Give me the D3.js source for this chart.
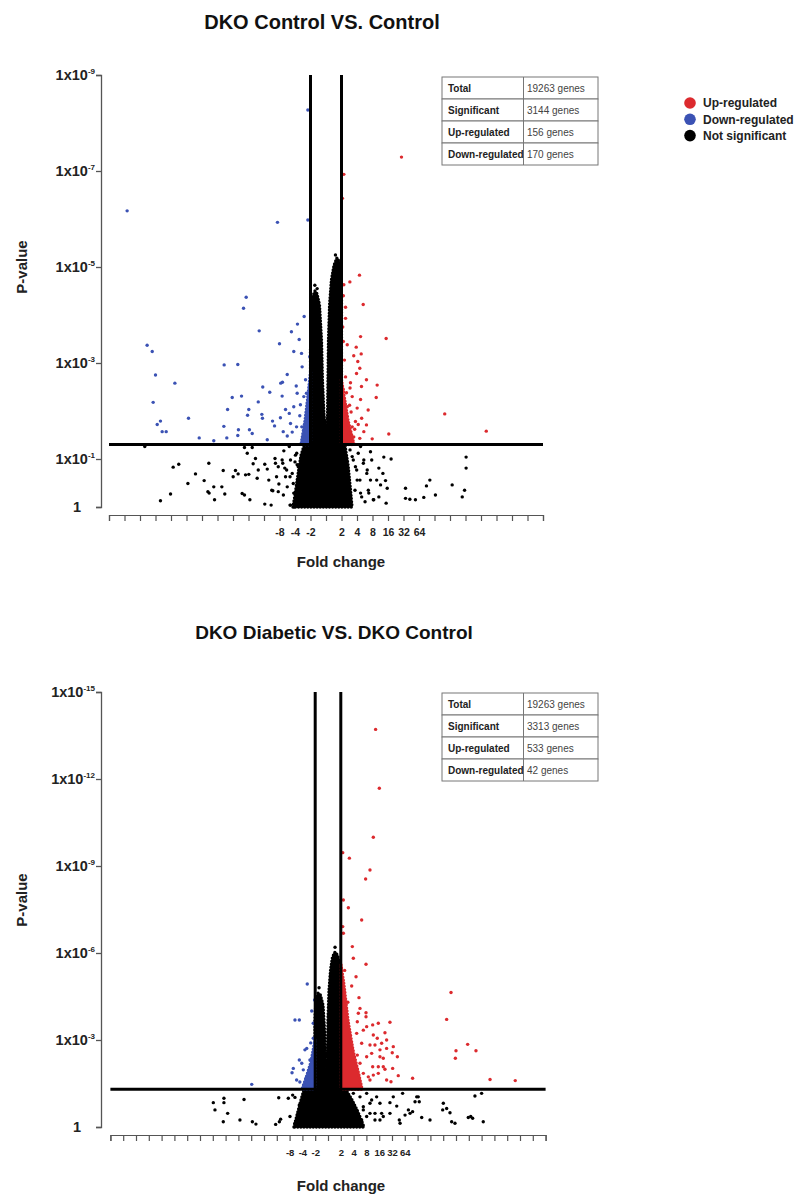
<!DOCTYPE html>
<html>
<head>
<meta charset="utf-8">
<script src="https://cdn.jsdelivr.net/npm/d3@7"></script>
<style>
  body { margin: 0; background: #fff; }
  svg { display: block; font-family: "Liberation Sans", Arial, Helvetica, sans-serif; }
</style>
</head>
<body>
<svg id="chart" width="807" height="1196"></svg>
<script>
// values are [log2 fold change, -log10 p-value]

// ---- DKO Control VS. Control ----
const ctrlUp = [
  [4.87,7.29],[1.15,6.93],[1.06,6.43],[2.16,4.83],[1.15,4.63],[1.54,4.69],[2.40,4.22],[1.26,4.16],
  [1.26,3.93],[2.23,3.55],[3.88,3.51],[1.37,3.38],[1.95,3.33],[2.27,3.19],[1.79,3.15],[2.05,3.03],
  [2.18,2.89],[1.97,2.78],[2.61,2.65],[3.30,2.54],[2.29,2.51],[1.58,2.59],[1.69,2.30],[2.23,2.24],
  [3.24,2.28],[2.72,2.02],[2.01,2.06],[7.66,1.94],[10.34,1.58],[4.05,1.52],[2.98,1.42],[2.61,1.71],
  [2.18,1.43],[1.90,1.78],[1.69,1.67],[1.37,2.09],[1.26,1.88],[1.47,1.53],[2.44,1.57],[1.79,1.46],
  [1.26,2.71],[1.19,3.06],[1.10,2.45],[1.32,2.38],[1.52,2.12],[1.12,3.45],[1.62,1.98],[1.85,1.62],
  [2.08,1.72],[1.40,1.70],[2.30,1.85],[1.55,2.48],[1.12,4.40],[1.08,3.75]
];
const ctrlDown = [
  [-1.17,8.27],[-1.17,5.98],[-12.83,6.17],[-3.13,5.93],[-5.15,4.37],[-5.32,4.14],[-11.54,3.37],
  [-11.21,3.24],[-11.00,2.75],[-9.75,2.58],[-11.15,2.18],[-10.89,1.72],[-10.68,1.79],[-10.57,1.57],
  [-10.31,1.57],[-8.87,1.85],[-8.18,1.44],[-7.24,1.38],[-6.57,2.96],[-5.69,2.97],[-6.35,2.03],
  [-6.05,2.28],[-5.45,2.31],[-6.59,1.68],[-6.40,1.44],[-5.69,1.49],[-5.65,1.61],[-4.98,2.03],
  [-5.06,1.91],[-4.94,1.61],[-4.76,1.53],[-4.37,2.19],[-4.31,3.67],[-4.08,2.50],[-4.14,1.93],
  [-4.10,1.85],[-3.63,2.39],[-3.45,1.79],[-3.32,1.69],[-3.79,1.40],[-3.00,3.40],[-2.92,2.58],
  [-2.81,2.60],[-2.83,2.31],[-2.94,1.86],[-2.50,2.76],[-2.23,3.65],[-2.08,3.24],[-1.84,3.81],
  [-1.73,3.49],[-1.41,3.97],[-1.54,2.92],[-2.61,2.03],[-2.37,1.95],[-2.29,1.74],[-2.18,1.56],
  [-2.76,1.57],[-2.50,1.48],[-1.92,2.52],[-1.86,2.37],[-1.65,2.13],[-2.08,2.09],[-1.69,1.90],
  [-1.56,1.67],[-1.90,1.67],[-1.39,1.46],[-1.32,2.65],[-1.26,2.37],[-1.21,2.02],[-1.43,2.30],
  [-1.09,1.40],[-1.05,3.13],[-1.58,3.20]
];
const ctrlNs = [
  [-11.69,1.26],[-9.86,0.83],[-9.50,0.89],[-10.68,0.13],[-10.03,0.27],[-8.91,0.49],[-8.42,0.69],
  [-7.86,0.55],[-7.56,0.91],[-7.62,0.32],[-7.54,0.29],[-7.24,0.42],[-7.19,0.15],[-6.72,0.42],
  [-6.63,0.76],[-6.53,0.27],[-5.99,0.63],[-5.84,0.76],[-5.67,0.69],[-5.41,0.28],[-5.26,0.25],
  [-5.19,0.67],[-4.98,0.68],[-4.91,0.15],[-4.70,0.90],[-5.26,1.24],[-5.08,1.12],[-4.76,1.24],
  [-4.55,1.01],[-4.37,0.77],[-4.44,0.60],[-3.95,0.89],[-3.79,0.79],[-3.69,0.56],[-3.95,0.06],
  [-3.54,0.04],[-3.43,0.34],[-3.26,0.91],[-3.19,0.63],[-3.04,0.48],[-2.83,0.98],[-2.72,1.17],
  [-2.66,0.81],[-2.61,0.63],[-2.50,0.42],[-2.37,1.26],[-2.29,0.98],[-2.29,0.04],[-2.18,0.70],
  [-2.08,0.29],[-1.97,1.08],[-1.86,0.88],[-1.82,0.56],[-1.69,0.35],[-1.65,0.15],
  [-3.29,1.01],[-3.08,0.84],[-2.79,0.91],[-2.54,0.77],[-2.32,0.63],[-2.11,0.49],[-2.00,0.94],
  [-3.08,0.32],[-3.50,0.35],[-2.32,0.04],[-2.75,0.25],[-1.89,1.12],[-1.79,0.84],[-1.68,0.21],
  [3.73,1.04],[4.20,1.00],[3.41,0.81],[3.67,0.70],[3.84,0.55],[3.52,0.46],[3.95,0.39],[3.88,0.08],
  [3.41,0.21],[3.08,0.15],[2.76,0.29],[2.87,0.56],[2.66,0.77],[2.44,0.98],[2.87,1.15],[2.23,1.26],
  [5.13,0.39],[5.13,0.18],[5.41,0.16],[5.77,0.15],[6.31,0.20],[6.48,0.44],[6.70,0.56],[7.06,0.25],
  [8.14,0.46],[8.79,0.21],[8.94,0.35],[9.04,1.04],[9.04,0.81],[2.01,0.56],[2.23,0.29],[1.90,0.84],
  [1.69,1.05],[1.55,1.19],[1.76,0.98],[1.98,0.77],[2.19,0.56],[2.30,0.21],[2.52,0.11],[2.73,0.35],
  [3.05,0.15],[1.87,0.35],[1.55,0.15],[2.08,1.12],[2.41,0.91],[2.63,0.70],[2.95,0.98],[3.27,0.56],
  [0.61,5.25],[0.94,5.05],[-0.72,4.62],[-0.57,4.55]
];
// outline of the solid not-significant cloud
const ctrlCore = [
  [-2.13,0],[-2.00,0.25],[-1.81,0.67],[-1.61,1.08],[-1.42,1.27],[-1.00,1.29],[-1.00,3.27],
  [-0.94,4.10],[-0.84,4.40],[-0.71,4.50],[-0.58,4.44],[-0.42,4.21],[-0.29,3.48],[-0.23,2.65],
  [-0.13,1.92],[0,1.44],[0.10,1.92],[0.13,2.65],[0.16,3.48],[0.23,4.21],[0.35,4.73],[0.52,5.04],
  [0.71,5.19],[0.87,5.10],[0.97,4.83],[1.00,4.31],[1.00,1.29],[1.23,1.27],[1.42,0.88],[1.55,0.46],
  [1.68,0]
];
const ctrlUpDense = [[1.0,2.65],[1.16,2.33],[1.42,1.81],[1.81,1.30],[1.0,1.30]];
const ctrlDownDense = [[-1.0,2.81],[-1.16,2.33],[-1.35,1.81],[-1.61,1.30],[-1.0,1.30]];
const ctrlPTicks = [9, 7, 5, 3, 1, 0];
const ctrlCounts = ['19263 genes', '3144 genes', '156 genes', '170 genes'];

// ---- DKO Diabetic VS. DKO Control ----
const diabUp = [
  [3.72,13.71],[4.01,11.68],[3.54,9.99],[1.15,9.46],[1.67,9.27],[3.28,8.86],[2.94,8.55],[1.20,7.83],
  [1.59,7.56],[2.63,7.14],[1.15,6.91],[1.20,6.68],[1.90,6.22],[1.98,5.82],[2.97,5.61],[2.19,5.18],
  [1.85,4.86],[2.42,4.46],[9.61,4.64],[9.27,3.71],[2.97,3.94],[2.97,3.80],[3.93,3.58],[3.49,3.52],
  [4.84,3.61],[4.45,3.25],[3.54,3.17],[3.85,3.06],[3.28,2.83],[3.67,2.83],[4.58,2.71],[5.10,2.77],
  [5.02,2.56],[5.42,2.42],[4.32,2.37],[3.49,2.08],[3.93,2.08],[4.32,2.08],[4.45,1.99],[5.05,2.02],
  [5.49,1.77],[6.61,1.68],[10.0,2.63],[9.95,2.37],[10.91,2.85],[11.56,2.63],[12.66,1.64],[14.63,1.60],
  [4.92,1.56],[3.15,1.73],[2.76,1.85],[2.50,2.20],[2.29,2.48],[2.63,2.89],[2.24,3.23],[2.76,3.34],
  [2.37,3.92],[3.02,3.46],[4.06,2.42],[4.06,2.66],[4.58,3.00],[4.19,2.89],[3.41,2.54],[3.02,2.42],
  [3.54,1.79],[3.93,1.85],[3.28,1.62],[2.50,4.09],[2.29,3.63],[4.58,1.62],[1.30,5.40],[1.55,4.30]
];
const diabDown = [
  [-1.62,4.93],[-2.58,3.69],[-2.24,3.69],[-1.27,4.00],[-1.15,3.58],[-1.80,2.66],[-1.66,2.71],
  [-2.24,2.31],[-2.05,2.20],[-2.71,2.02],[-2.81,1.87],[-5.96,1.47],[-1.93,1.97],[-1.41,2.31],
  [-1.72,1.68],[-1.88,1.45],[-1.54,1.39],[-1.27,1.73],[-1.15,3.06],[-1.05,4.38],[-2.20,1.55],
  [-2.45,1.62],[-1.35,2.90]
];
const diabNs = [
  [-8.96,0.84],[-8.83,0.59],[-8.13,0.99],[-8.13,0.84],[-7.84,0.47],[-8.18,0.18],[-6.88,0.24],
  [-6.56,0.95],[-5.91,0.18],[-5.63,0.10],[-4.09,0.09],[-3.80,0.18],[-3.70,0.27],[-3.85,1.01],
  [-3.10,0.99],[-2.76,1.10],[-2.58,1.02],[-2.97,0.36],[-2.58,0.13],[-2.32,0.47],[-2.24,0.76],
  [-2.05,0.24],[-1.80,0.82],[-2.13,0.47],[-2.40,0.13],[-1.66,1.16],
  [5.83,1.16],[6.93,1.04],[6.80,0.87],[7.13,0.87],[5.10,1.04],[4.84,0.84],[5.37,0.72],[4.06,0.82],
  [4.19,0.47],[4.32,0.36],[3.67,0.24],[4.84,0.47],[5.57,0.24],[5.63,0.13],[6.02,0.41],[6.28,0.59],
  [6.41,0.47],[6.61,0.53],[7.32,0.33],[7.97,0.24],[9.01,0.82],[8.96,0.59],[9.27,0.64],[9.53,0.49],
  [9.66,0.18],[9.92,0.13],[10.96,0.33],[11.15,0.36],[11.30,0.30],[12.13,0.18],[11.48,1.07],
  [12.00,1.16],[3.02,1.16],[3.41,0.93],[3.28,0.47],[2.76,0.59],[2.50,0.24],[7.05,1.04],
  [2.50,1.04],[2.76,0.70],[3.02,0.36],[2.63,0.24],[3.28,0.82],[3.67,0.47],[2.24,0.47],[1.98,1.16],
  [3.80,1.04],[4.06,0.24],[0.55,6.20],[-0.70,4.80]
];
const diabCore = [
  [-2.66,0],[-2.42,0.41],[-2.11,0.93],[-1.88,1.28],[-1.02,1.31],[-1.02,3.69],[-0.94,4.38],
  [-0.78,4.62],[-0.59,4.55],[-0.39,4.21],[-0.27,3.34],[-0.20,2.31],[-0.12,1.62],[-0.04,2.31],
  [0,3.69],[0.08,4.72],[0.20,5.41],[0.35,5.86],[0.55,6.03],[0.74,5.93],[0.94,5.59],[1.02,4.90],
  [1.02,1.31],[1.41,1.28],[1.88,0.93],[2.34,0.52],[2.66,0.17],[2.81,0]
];
const diabUpDense = [[1.02,5.59],[1.25,4.90],[1.56,3.69],[1.95,2.66],[2.42,1.79],[2.66,1.30],[1.02,1.30]];
const diabDownDense = [[-1.02,3.00],[-1.33,2.24],[-1.72,1.69],[-2.03,1.30],[-1.02,1.30]];
const diabPTicks = [15, 12, 9, 6, 3, 0];
const diabCounts = ['19263 genes', '3313 genes', '533 genes', '42 genes'];

// ---- shared ----
const tableLabels = ['Total', 'Significant', 'Up-regulated', 'Down-regulated'];
const foldTickPos = [-3, -2, -1, 1, 2, 3, 4, 5, 6];
const foldTickText = ['-8', '-4', '-2', '2', '4', '8', '16', '32', '64'];
const legendLabels = ['Up-regulated', 'Down-regulated', 'Not significant'];
const pCutoff = 0.05;
const foldCutoff = 1;

const colUp = '#dc2a2e';
const colDown = '#3b52b4';
const colNs = '#000';
const legendColors = [colUp, colDown, colNs];

const svg = d3.select('#chart');

const panels = [
  {
    title: 'DKO Control VS. Control', titleSize: 20, titleX: 322, titleY: 29,
    up: ctrlUp, down: ctrlDown, ns: ctrlNs, core: ctrlCore,
    upDense: ctrlUpDense, downDense: ctrlDownDense,
    pTicks: ctrlPTicks, counts: ctrlCounts,
    lfcMax: 14, xLeft: 109, xRight: 543, tickFont: 10.5,
    yTop: 75, yBottom: 507, xAxisY: 515,
    foldLabelY: 567, pLabelY: 267, tableY: 77
  },
  {
    title: 'DKO Diabetic VS. DKO Control', titleSize: 19, titleX: 334, titleY: 639,
    up: diabUp, down: diabDown, ns: diabNs, core: diabCore,
    upDense: diabUpDense, downDense: diabDownDense,
    pTicks: diabPTicks, counts: diabCounts,
    lfcMax: 17, xLeft: 110.4, xRight: 545.6, tickFont: 9.5,
    yTop: 692, yBottom: 1127, xAxisY: 1135,
    foldLabelY: 1191, pLabelY: 900, tableY: 693
  }
];

panels.forEach(drawPanel);
drawLegend();

function cloud (g, path, col) {
  // solid fill plus a dotted rim so the edge reads as scattered genes
  g.append('path').attr('d', path)
    .attr('fill', col).attr('stroke', col).attr('stroke-width', 1.2).attr('stroke-linejoin', 'round');
  g.append('path').attr('d', path)
    .attr('fill', 'none').attr('stroke', col)
    .attr('stroke-width', 3.4).attr('stroke-linecap', 'round')
    .attr('stroke-dasharray', '0 3.1');
}

function drawPanel (p) {
  const g = svg.append('g');
  const nlpMax = p.pTicks[0];

  const x = d3.scaleLinear().domain([-p.lfcMax, p.lfcMax]).range([p.xLeft, p.xRight]);
  const y = d3.scaleLinear().domain([0, nlpMax]).range([p.yBottom, p.yTop]);
  const cutY = -Math.log10(pCutoff);

  const outline = d3.line()
    .x(d => x(d[0]))
    .y(d => y(d[1]))
    .curve(d3.curveLinearClosed);

  // dense clouds first, then single genes on top
  cloud(g, outline(p.core), colNs);
  cloud(g, outline(p.downDense), colDown);
  cloud(g, outline(p.upDense), colUp);

  [[p.ns, colNs], [p.down, colDown], [p.up, colUp]].forEach(([pts, col]) => {
    g.append('g').selectAll('circle')
      .data(pts)
      .join('circle')
      .attr('cx', d => x(d[0]))
      .attr('cy', d => y(d[1]))
      .attr('r', 1.7)
      .attr('fill', col);
  });

  // cut-off lines
  g.append('line')
    .attr('x1', x(-p.lfcMax)).attr('x2', x(p.lfcMax))
    .attr('y1', y(cutY)).attr('y2', y(cutY))
    .attr('stroke', '#000').attr('stroke-width', 3);
  [-foldCutoff, foldCutoff].forEach(v => {
    g.append('line')
      .attr('x1', x(v)).attr('x2', x(v))
      .attr('y1', y(nlpMax)).attr('y2', y(0))
      .attr('stroke', '#000').attr('stroke-width', 3);
  });

  // y axis (p-value, log scale shown as -log10)
  const yAxis = g.append('g')
    .attr('transform', 'translate(101,0)')
    .call(d3.axisLeft(y).tickValues(p.pTicks).tickSize(5).tickSizeOuter(5).tickFormat(''));
  yAxis.selectAll('path, line').attr('stroke', '#555').attr('stroke-width', 1.3);

  p.pTicks.forEach(k => {
    const t = g.append('text')
      .attr('y', y(k))
      .attr('dy', '0.36em')
      .attr('text-anchor', 'end')
      .attr('font-size', 14.5)
      .attr('font-weight', 'bold')
      .attr('fill', '#222');
    if (k === 0) {
      t.attr('x', 81).text('1');
    } else {
      t.attr('x', 95).text('1x10');
      t.append('tspan')
        .attr('font-size', 8)
        .attr('dy', '-0.75em')
        .text('-' + k);
    }
  });

  // x axis (fold change, log2 spaced)
  const labelOf = new Map(foldTickPos.map((v, i) => [v, foldTickText[i]]));
  const xAxis = g.append('g')
    .attr('transform', `translate(0,${p.xAxisY})`)
    .call(d3.axisBottom(x)
      .tickValues(d3.range(-p.lfcMax, p.lfcMax + 1))
      .tickSize(6).tickSizeOuter(6).tickPadding(8)
      .tickFormat(d => labelOf.get(d) || ''));
  xAxis.selectAll('path, line').attr('stroke', '#555').attr('stroke-width', 1.2);
  xAxis.selectAll('text')
    .attr('font-size', p.tickFont).attr('font-weight', 'bold').attr('fill', '#222')
    .attr('font-family', '"Liberation Sans", Arial, sans-serif');

  // titles
  g.append('text')
    .attr('x', p.titleX).attr('y', p.titleY)
    .attr('text-anchor', 'middle')
    .attr('font-size', p.titleSize).attr('font-weight', 'bold').attr('fill', '#111')
    .text(p.title);
  g.append('text')
    .attr('x', 341).attr('y', p.foldLabelY)
    .attr('text-anchor', 'middle')
    .attr('font-size', 15).attr('font-weight', 'bold').attr('fill', '#222')
    .text('Fold change');
  g.append('text')
    .attr('transform', `translate(27,${p.pLabelY}) rotate(-90)`)
    .attr('text-anchor', 'middle')
    .attr('font-size', 15).attr('font-weight', 'bold').attr('fill', '#222')
    .text('P-value');

  // summary table
  const rowH = 22;
  const tx0 = 442, tx1 = 598, tDiv = 523.5;
  const table = g.append('g');
  table.selectAll('rect')
    .data(tableLabels)
    .join('rect')
    .attr('x', tx0).attr('y', (d, i) => p.tableY + i * rowH)
    .attr('width', tx1 - tx0).attr('height', rowH)
    .attr('fill', '#fff').attr('stroke', '#777').attr('stroke-width', 1);
  table.append('line')
    .attr('x1', tDiv).attr('x2', tDiv)
    .attr('y1', p.tableY).attr('y2', p.tableY + rowH * tableLabels.length)
    .attr('stroke', '#777');
  table.selectAll('text.lab')
    .data(tableLabels)
    .join('text').attr('class', 'lab')
    .attr('x', 448).attr('y', (d, i) => p.tableY + i * rowH + rowH / 2)
    .attr('dy', '0.35em')
    .attr('font-size', 10).attr('font-weight', 'bold').attr('fill', '#222')
    .text(d => d);
  table.selectAll('text.val')
    .data(p.counts)
    .join('text').attr('class', 'val')
    .attr('x', 527).attr('y', (d, i) => p.tableY + i * rowH + rowH / 2)
    .attr('dy', '0.35em')
    .attr('font-size', 10).attr('fill', '#444')
    .text(d => d);
}

function drawLegend () {
  const lg = svg.append('g').attr('transform', 'translate(690,103)');
  const items = lg.selectAll('g')
    .data(legendLabels)
    .join('g')
    .attr('transform', (d, i) => `translate(0,${i * 16.3})`);
  items.append('circle')
    .attr('r', 5.8)
    .attr('fill', (d, i) => legendColors[i]);
  items.append('text')
    .attr('x', 13).attr('dy', '0.36em')
    .attr('font-size', 12).attr('font-weight', 'bold').attr('fill', '#222')
    .text(d => d);
}
</script>
</body>
</html>
